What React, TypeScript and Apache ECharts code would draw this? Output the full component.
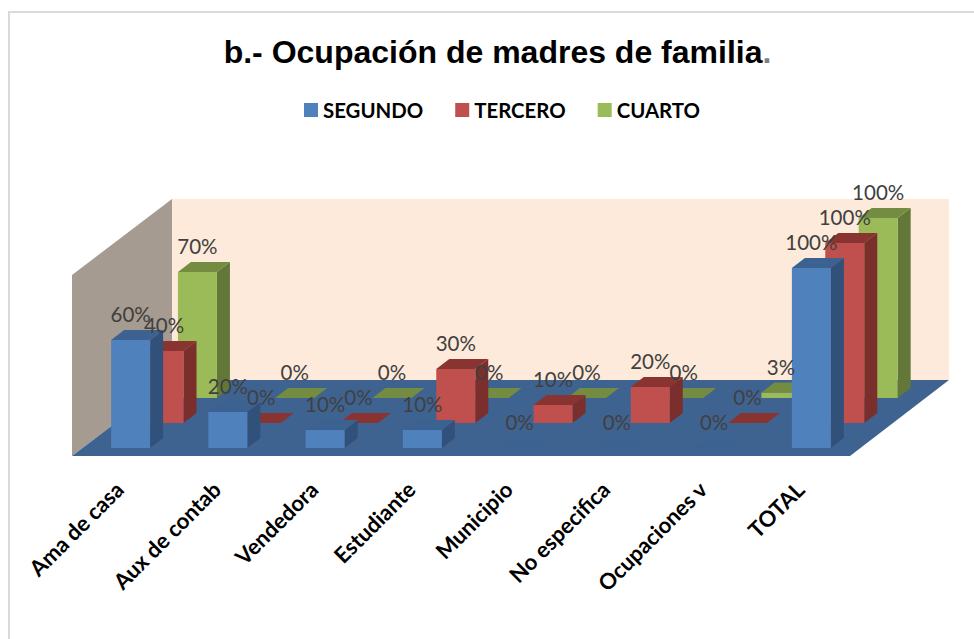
import React, { useEffect, useRef } from "react";
import * as echarts from "echarts";

const categories = ["Ama de casa", "Aux de contab", "Vendedora", "Estudiante", "Municipio", "No especifica", "Ocupaciones v", "TOTAL"];
const segundo = [60, 20, 10, 10, 0, 0, 0, 100];
const tercero = [40, 0, 0, 30, 10, 20, 0, 100];
const cuarto = [70, 0, 0, 0, 0, 0, 3, 100];

const rowDx = 33.4;
const rowDy = -25;
const depthDx = 13;
const depthDy = -10;
const labelFont = "Lato";

function makeSeries(name: string, values: number[], row: number, face: string, top: string, side: string) {
  return {
    name,
    type: "custom",
    coordinateSystem: "cartesian2d",
    itemStyle: { color: face },
    encode: { x: 0, y: 1 },
    silent: true,
    data: values.map((v, i) => [i, v]),
    renderItem: (_p: any, api: any) => {
      const i = api.value(0);
      const v = api.value(1);
      const hi = api.coord([i, v]);
      const lo = api.coord([i, 0]);
      const w = api.size([1, 0])[0] * 0.401;
      const ox = row * rowDx;
      const oy = row * rowDy;
      const x0 = hi[0] - w / 2 + ox;
      const x1 = x0 + w;
      const yt = hi[1] + oy;
      const yb = lo[1] + oy;
      const z2 = 10 - row;
      const children: any[] = [];
      if (v > 0) {
        children.push({
          type: "polygon", z2,
          shape: { points: [[x1, yt], [x1 + depthDx, yt + depthDy], [x1 + depthDx, yb + depthDy], [x1, yb]] },
          style: { fill: side },
        });
        children.push({
          type: "rect", z2,
          shape: { x: x0, y: yt, width: w, height: yb - yt },
          style: { fill: face },
        });
      }
      children.push({
        type: "polygon", z2,
        shape: { points: [[x0, yt], [x1, yt], [x1 + depthDx, yt + depthDy], [x0 + depthDx, yt + depthDy]] },
        style: { fill: top },
      });
      children.push({
        type: "text", z2: 50,
        style: {
          x: (x0 + x1) / 2, y: yt - 26, text: `${v}%`, fill: "#404040",
          font: `20.5px ${labelFont}`, align: "center", verticalAlign: "middle",
        },
      });
      return { type: "group", children };
    },
  };
}

export default function App() {
  const ref = useRef<HTMLDivElement>(null);
  useEffect(() => {
    const chart = echarts.init(ref.current!, undefined, { renderer: "svg" });
    chart.setOption({
      animation: false,
      backgroundColor: "#ffffff",
      title: {
        left: 492.5, top: 31, textAlign: "center",
        text: "{a|b.- Ocupación de madres de familia}{b|.}",
        textStyle: {
          rich: {
            a: { fontFamily: "Liberation Sans", fontWeight: "bold", fontSize: 32, color: "#000000" },
            b: { fontFamily: "Liberation Sans", fontWeight: "bold", fontSize: 32, color: "#7f7f7f" },
          },
        },
      },
      legend: {
        left: 299, top: 95, itemWidth: 14, itemHeight: 14, itemGap: 32, icon: "rect",
        data: ["SEGUNDO", "TERCERO", "CUARTO"],
        textStyle: { fontFamily: labelFont, fontWeight: "bold", fontSize: 20.4, color: "#000000" },
      },
      grid: { left: 82, width: 778, top: 268, height: 180 },
      xAxis: {
        type: "category", data: categories,
        axisLine: { show: false }, axisTick: { show: false }, splitLine: { show: false },
        axisLabel: { rotate: 45, margin: 26, interval: 0, padding: [0, 16, 0, 0], fontFamily: labelFont, fontWeight: "bold", fontSize: 22, color: "#000000" },
      },
      yAxis: { type: "value", min: 0, max: 100, show: false },
      graphic: [
        { type: "polyline", z: 0, shape: { points: [[9, 639], [9, 12], [974, 12]] }, style: { stroke: "#d9d9d9", lineWidth: 2, fill: "none" } },
        { type: "polygon", z: 0, shape: { points: [[172, 199], [949, 199], [949, 380], [172, 380]] }, style: { fill: "#fdeada" } },
        { type: "polygon", z: 0, shape: { points: [[72, 275], [172, 199], [172, 380], [72, 456]] }, style: { fill: "#a69b90" } },
        { type: "polygon", z: 0, shape: { points: [[72, 456], [850, 456], [949, 380], [172, 380]] }, style: { fill: "#3f6391" } },
      ],
      series: [
        makeSeries("SEGUNDO", segundo, 0, "#4f81bd", "#3c6291", "#31517a"),
        makeSeries("TERCERO", tercero, 1, "#c0504d", "#8a3432", "#7b2f2d"),
        makeSeries("CUARTO", cuarto, 2, "#9bbb59", "#738c42", "#637838"),
      ],
    });
    return () => chart.dispose();
  }, []);
  return <div ref={ref} style={{ position: "fixed", left: 0, top: 0, width: 974, height: 639 }} />;
}
